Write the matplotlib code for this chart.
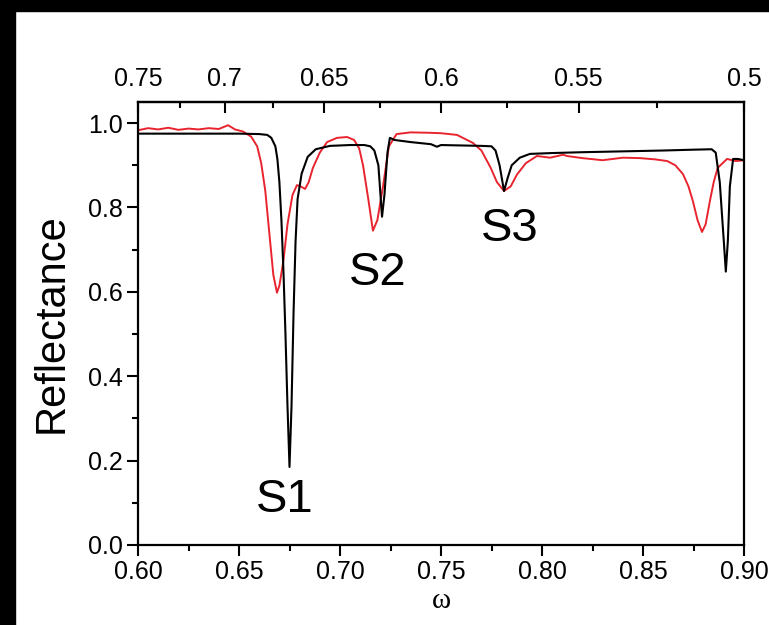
import numpy as np
import matplotlib.pyplot as plt
from matplotlib.patches import Rectangle
from matplotlib.ticker import MultipleLocator, FixedLocator, FormatStrFormatter

# black curve (calculated)
omega_calc = [0.600, 0.630, 0.650, 0.660, 0.664, 0.666, 0.668, 0.669, 0.670, 0.671,
              0.672, 0.673, 0.674, 0.675, 0.676, 0.677, 0.678, 0.679, 0.681, 0.684,
              0.688, 0.695, 0.705, 0.712, 0.715, 0.717, 0.719, 0.7208, 0.722, 0.7235,
              0.7247, 0.727, 0.735, 0.745, 0.748, 0.750, 0.760, 0.770, 0.775, 0.777,
              0.779, 0.7812, 0.783, 0.785, 0.789, 0.794, 0.805, 0.820, 0.840, 0.860,
              0.875, 0.884, 0.886, 0.888, 0.890, 0.891, 0.892, 0.893, 0.8946, 0.897,
              0.900]
refl_calc = [0.975, 0.975, 0.975, 0.974, 0.972, 0.965, 0.945, 0.915, 0.860, 0.770,
             0.650, 0.500, 0.330, 0.185, 0.330, 0.550, 0.720, 0.820, 0.880, 0.920,
             0.938, 0.946, 0.948, 0.948, 0.945, 0.935, 0.900, 0.778, 0.830, 0.930,
             0.965, 0.960, 0.955, 0.950, 0.944, 0.948, 0.947, 0.946, 0.945, 0.935,
             0.900, 0.839, 0.870, 0.900, 0.918, 0.927, 0.929, 0.931, 0.933, 0.935,
             0.937, 0.938, 0.930, 0.860, 0.720, 0.648, 0.720, 0.850, 0.915, 0.915,
             0.912]

# red curve (measured)
omega_meas = [0.600, 0.605, 0.610, 0.615, 0.620, 0.625, 0.630, 0.635, 0.640, 0.6446,
              0.648, 0.652, 0.656, 0.659, 0.661, 0.663, 0.665, 0.667, 0.6688, 0.670,
              0.672, 0.674, 0.6765, 0.6787, 0.6805, 0.6827, 0.6845, 0.6866, 0.690, 0.6936,
              0.6985, 0.7035, 0.7070, 0.7095, 0.7114, 0.7140, 0.7163, 0.7185, 0.7213, 0.7242,
              0.728, 0.735, 0.7445, 0.750, 0.7579, 0.7658, 0.770, 0.7745, 0.7777, 0.7812,
              0.7845, 0.7876, 0.792, 0.7975, 0.8040, 0.8104, 0.8124, 0.820, 0.830, 0.840,
              0.8485, 0.856, 0.862, 0.866, 0.8698, 0.8725, 0.8747, 0.877, 0.8792, 0.881,
              0.8831, 0.885, 0.887, 0.8916, 0.896, 0.900]
refl_meas = [0.983, 0.988, 0.985, 0.989, 0.984, 0.987, 0.985, 0.988, 0.986, 0.995,
             0.985, 0.980, 0.968, 0.945, 0.905, 0.840, 0.740, 0.640, 0.598, 0.615,
             0.674, 0.760, 0.830, 0.853, 0.850, 0.844, 0.860, 0.894, 0.930, 0.955,
             0.965, 0.967, 0.960, 0.940, 0.900, 0.820, 0.745, 0.770, 0.850, 0.945,
             0.974, 0.978, 0.977, 0.976, 0.972, 0.953, 0.935, 0.895, 0.860, 0.839,
             0.850, 0.878, 0.905, 0.922, 0.918, 0.925, 0.922, 0.917, 0.912, 0.918,
             0.917, 0.914, 0.910, 0.900, 0.879, 0.850, 0.815, 0.770, 0.742, 0.760,
             0.815, 0.860, 0.894, 0.915, 0.910, 0.912]

peak_names = ["S1", "S2", "S3"]
peak_omega = [0.6728, 0.7188, 0.7842]
peak_refl = [0.106, 0.645, 0.749]

top_major = [0.75, 0.7, 0.65, 0.6, 0.55, 0.5]
top_minor = [0.725, 0.675, 0.625, 0.575, 0.525]

plt.rcParams['font.family'] = ['Liberation Sans', 'DejaVu Sans']

fig = plt.figure(figsize=(7.69, 6.25), dpi=100)
# black frame strips at top and left of the original screenshot
fig.patches.append(Rectangle((0, 1 - 11 / 625), 1, 11 / 625, transform=fig.transFigure,
                             color='black', zorder=0))
fig.patches.append(Rectangle((0, 0), 15 / 769, 1, transform=fig.transFigure,
                             color='black', zorder=0))

ax = fig.add_axes([138 / 769, 80 / 625, 606 / 769, 443 / 625])
ax.plot(omega_meas, refl_meas, color='#e8252f', lw=1.4)
ax.plot(omega_calc, refl_calc, color='black', lw=1.5)

for name, w, r in zip(peak_names, peak_omega, peak_refl):
    ax.text(w, r, name, fontsize=34, ha='center', va='center')

ax.set_xlim(0.6, 0.9)
ax.set_ylim(0, 1.05)
ax.xaxis.set_major_locator(MultipleLocator(0.05))
ax.xaxis.set_minor_locator(MultipleLocator(0.025))
ax.xaxis.set_major_formatter(FormatStrFormatter('%.2f'))
ax.yaxis.set_major_locator(MultipleLocator(0.2))
ax.yaxis.set_minor_locator(MultipleLocator(0.1))
ax.yaxis.set_major_formatter(FormatStrFormatter('%.1f'))
ax.tick_params(which='major', direction='out', length=8, width=1.5, labelsize=18, pad=3)
ax.tick_params(which='minor', direction='out', length=4, width=1.5)
for s in ax.spines.values():
    s.set_linewidth(1.6)

ax.set_ylabel('Reflectance', fontsize=30, labelpad=12)
ax.set_xlabel('ω', fontsize=21, family=['Liberation Serif', 'DejaVu Serif'], labelpad=3)

sec = ax.secondary_xaxis('top', functions=(lambda w: 0.45 / w, lambda t: 0.45 / t))
sec.xaxis.set_major_locator(FixedLocator(top_major))
sec.xaxis.set_minor_locator(FixedLocator(top_minor))
sec.xaxis.set_major_formatter(FormatStrFormatter('%g'))
sec.tick_params(which='major', direction='in', length=8, width=1.5, labelsize=18, pad=8)
sec.tick_params(which='minor', direction='in', length=4, width=1.5)
sec.spines['top'].set_linewidth(1.6)

fig.savefig('out.png', dpi=100)
